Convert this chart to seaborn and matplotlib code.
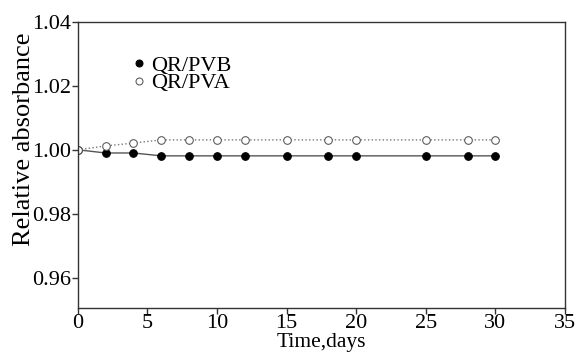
import pandas as pd
import matplotlib
matplotlib.use('Agg')
import matplotlib.pyplot as plt
import seaborn as sns

# Data
days = [0, 2, 4, 6, 8, 10, 12, 15, 18, 20, 25, 28, 30]
pvb = [1.0000, 0.9990, 0.9990, 0.9981, 0.9981, 0.9981, 0.9981, 0.9981, 0.9981, 0.9981, 0.9981, 0.9981, 0.9981]
pva = [1.0000, 1.0012, 1.0021, 1.0031, 1.0031, 1.0031, 1.0031, 1.0031, 1.0031, 1.0031, 1.0031, 1.0031, 1.0031]
x_ticks = [0, 5, 10, 15, 20, 25, 30, 35]
y_ticks = [0.96, 0.98, 1.00, 1.02, 1.04]

df = pd.concat([
    pd.DataFrame({'day': days, 'value': pvb, 'sample': 'QR/PVB'}),
    pd.DataFrame({'day': days, 'value': pva, 'sample': 'QR/PVA'}),
])

sns.set_style('white')
plt.rcParams['font.family'] = ['Liberation Serif', 'DejaVu Serif']
plt.rcParams['text.color'] = 'black'
plt.rcParams['axes.labelcolor'] = 'black'
plt.rcParams['xtick.color'] = 'black'
plt.rcParams['ytick.color'] = 'black'

fig = plt.figure(figsize=(5.76, 3.54), dpi=100)
ax = fig.add_axes([0.135, 0.13, 0.846, 0.808])

sns.lineplot(data=df[df['sample'] == 'QR/PVB'], x='day', y='value', ax=ax,
             color='#555555', lw=1.0, marker='o', markersize=5.5,
             markerfacecolor='black', markeredgecolor='black', label='QR/PVB')
sns.lineplot(data=df[df['sample'] == 'QR/PVA'], x='day', y='value', ax=ax,
             color='#777777', lw=1.0, linestyle=':', marker='o', markersize=5.5,
             markerfacecolor='white', markeredgecolor='#555555', label='QR/PVA')

ax.set_xlim(0, 35)
ax.set_ylim(0.9505, 1.04)
ax.set_xticks(x_ticks)
ax.set_yticks(y_ticks)
ax.set_yticklabels([f'{v:.2f}' for v in y_ticks])
ax.tick_params(axis='both', labelsize=16, direction='out', length=4, width=1,
               color='#333333', pad=1)
ax.tick_params(axis='x', bottom=True, pad=0)
ax.tick_params(axis='y', left=True)
ax.set_xlabel('Time,days', fontsize=15.5, labelpad=0)
ax.set_ylabel('Relative absorbance', fontsize=19)
ax.yaxis.set_label_coords(-0.088, 0.59)
for s in ax.spines.values():
    s.set_color('#333333')
    s.set_linewidth(1.0)

leg = ax.legend(loc='upper left', bbox_to_anchor=(0.094, 0.921), frameon=False,
                fontsize=16, handlelength=0.4, handletextpad=0.35,
                labelspacing=-0.15, borderpad=0)
for h in leg.legend_handles:
    h.set_linestyle('none')
    h.set_markersize(5)

fig.savefig('out.png', dpi=100)
